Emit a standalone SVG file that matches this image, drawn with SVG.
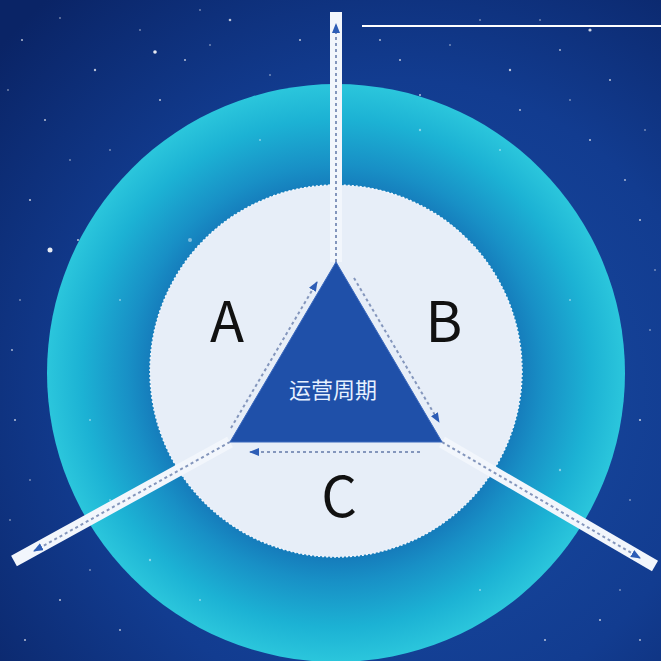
<svg xmlns="http://www.w3.org/2000/svg" width="661" height="661" viewBox="0 0 661 661">
<defs>
<radialGradient id="bg" cx="0.6" cy="0.6" r="0.8">
<stop offset="0" stop-color="#1a4ea6"/>
<stop offset="0.6" stop-color="#123c90"/>
<stop offset="1" stop-color="#0a2466"/>
</radialGradient>
<radialGradient id="ring" cx="336" cy="373" r="289" gradientUnits="userSpaceOnUse">
<stop offset="0.6" stop-color="#1472b6"/>
<stop offset="0.72" stop-color="#1890c6"/>
<stop offset="0.88" stop-color="#1cb2d4"/>
<stop offset="1" stop-color="#2bc6dc"/>
</radialGradient>
<marker id="ah" viewBox="0 0 10 8" refX="9" refY="4" markerWidth="10" markerHeight="8" markerUnits="userSpaceOnUse" orient="auto">
<path d="M0,0 L10,4 L0,8 z" fill="#2d5db6"/>
</marker>
<style>
.star{fill:#ffffff}
.ray{stroke:#f2f6fc;stroke-width:12;stroke-linecap:butt;fill:none}
.dots{stroke:#8496bc;stroke-width:2;stroke-dasharray:3 3;fill:none;marker-end:url(#ah)}
.lbl{font-family:"Noto Sans CJK SC","Liberation Sans",sans-serif;font-size:56px;fill:#111111;text-anchor:middle}
.cn{font-family:"Noto Sans CJK SC",sans-serif;font-size:22px;fill:#e6f0ff;text-anchor:middle}
</style>
</defs>
<g id="background">
<rect x="0" y="0" width="661" height="661" fill="url(#bg)"/>
<g class="star" opacity="0.7">
<circle cx="22" cy="40" r="1"/><circle cx="60" cy="18" r="0.8"/><circle cx="95" cy="70" r="1.2"/><circle cx="140" cy="30" r="0.8"/>
<circle cx="185" cy="60" r="1"/><circle cx="230" cy="20" r="1.3"/><circle cx="270" cy="75" r="0.8"/><circle cx="300" cy="40" r="1"/>
<circle cx="45" cy="120" r="1"/><circle cx="110" cy="150" r="0.8"/><circle cx="30" cy="200" r="1.1"/><circle cx="78" cy="240" r="1"/>
<circle cx="20" cy="300" r="0.8"/><circle cx="15" cy="420" r="1"/><circle cx="30" cy="480" r="0.8"/><circle cx="60" cy="600" r="1"/>
<circle cx="120" cy="630" r="0.9"/><circle cx="25" cy="640" r="1"/><circle cx="400" cy="60" r="1"/><circle cx="450" cy="45" r="0.8"/>
<circle cx="510" cy="70" r="1.2"/><circle cx="560" cy="50" r="0.9"/><circle cx="610" cy="80" r="1"/><circle cx="645" cy="130" r="0.8"/>
<circle cx="590" cy="140" r="1"/><circle cx="640" cy="220" r="1"/><circle cx="650" cy="330" r="0.8"/><circle cx="640" cy="420" r="1.1"/>
<circle cx="630" cy="500" r="0.8"/><circle cx="600" cy="620" r="1"/><circle cx="640" cy="640" r="0.9"/><circle cx="545" cy="640" r="1"/>
<circle cx="360" cy="100" r="0.8"/><circle cx="420" cy="95" r="1"/><circle cx="245" cy="100" r="0.9"/><circle cx="160" cy="100" r="1"/>
<circle cx="70" cy="160" r="0.8"/><circle cx="130" cy="200" r="0.8"/><circle cx="520" cy="110" r="0.9"/><circle cx="480" cy="20" r="0.8"/>
<circle cx="8" cy="90" r="0.8"/><circle cx="200" cy="10" r="0.8"/><circle cx="380" cy="40" r="0.9"/><circle cx="540" cy="20" r="0.8"/>
<circle cx="625" cy="180" r="0.9"/><circle cx="655" cy="270" r="0.8"/><circle cx="12" cy="350" r="0.9"/><circle cx="10" cy="520" r="0.8"/>
<circle cx="90" cy="570" r="0.8"/><circle cx="620" cy="590" r="0.8"/><circle cx="570" cy="100" r="0.8"/><circle cx="210" cy="45" r="0.8"/>
</g>
<circle cx="50" cy="250" r="2.5" fill="#ffffff" opacity="0.9"/>
<circle cx="155" cy="52" r="1.8" fill="#ffffff" opacity="0.9"/>
<circle cx="590" cy="30" r="1.6" fill="#ffffff" opacity="0.8"/>
</g>
<g id="ring-node">
<circle cx="336" cy="373" r="289" fill="url(#ring)"/>
<g class="star" opacity="0.45">
<circle cx="190" cy="240" r="2"/><circle cx="120" cy="300" r="1"/><circle cx="90" cy="420" r="1"/><circle cx="150" cy="560" r="1.2"/>
<circle cx="500" cy="150" r="1"/><circle cx="570" cy="300" r="1"/><circle cx="560" cy="470" r="1.2"/><circle cx="480" cy="590" r="1"/>
<circle cx="260" cy="140" r="1"/><circle cx="420" cy="130" r="1.2"/><circle cx="200" cy="600" r="1"/><circle cx="110" cy="500" r="0.9"/>
</g>
</g>
<g id="inner-circle">
<circle cx="336" cy="371" r="186" fill="#e7eef8" stroke="#f4f8fd" stroke-width="1.5" stroke-dasharray="2 2"/>
</g>
<line x1="362" y1="26" x2="661" y2="26" stroke="#ffffff" stroke-width="2"/>
<g id="connectors">
<line class="ray" x1="336" y1="262" x2="336" y2="12"/>
<line class="ray" x1="230" y1="442" x2="14" y2="561"/>
<line class="ray" x1="442" y1="442" x2="655" y2="566"/>
<line class="dots" x1="336" y1="262" x2="336" y2="24"/>
<line class="dots" x1="230" y1="442" x2="34" y2="551"/>
<line class="dots" x1="442" y1="442" x2="640" y2="558"/>
<line class="dots" x1="231" y1="428" x2="317" y2="282"/>
<line class="dots" x1="354" y1="278" x2="439" y2="422"/>
<line class="dots" x1="420" y1="452" x2="250" y2="452"/>
</g>
<g id="triangle">
<polygon points="336,262 230,442 442,442" fill="#1f50a9" stroke="#3a68bd" stroke-width="1"/>
<text class="cn" x="333" y="398">运营周期</text>
</g>
<g id="label-a"><text class="lbl" x="227" y="342">A</text></g>
<g id="label-b"><text class="lbl" x="444" y="342">B</text></g>
<g id="label-c"><text class="lbl" x="339" y="517">C</text></g>
</svg>
